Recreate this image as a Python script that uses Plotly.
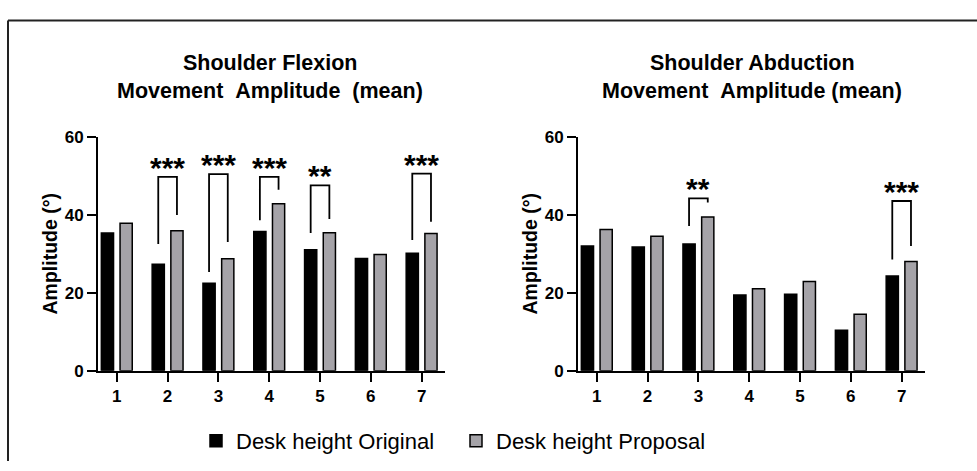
import plotly.graph_objects as go

# ---------------- data ----------------
categories = [1, 2, 3, 4, 5, 6, 7]
tick_labels = ["1", "2", "3", "4", "5", "6", "7"]
y_ticks = [0, 20, 40, 60]

flex_original = [35.3, 27.3, 22.4, 35.7, 31.0, 28.8, 30.1]
flex_proposal = [37.8, 35.9, 28.7, 42.8, 35.4, 29.8, 35.2]
abd_original = [32.0, 31.7, 32.5, 19.4, 19.6, 10.4, 24.3]
abd_proposal = [36.2, 34.5, 39.4, 21.0, 22.9, 14.5, 28.0]

flex_sig_cats = [2, 3, 4, 5, 7]
flex_sig_top = [49.7, 50.4, 49.7, 47.5, 50.5]
flex_sig_left = [32.5, 25.3, 38.6, 35.3, 33.5]
flex_sig_right = [39.9, 33.0, 46.4, 38.9, 38.2]
flex_sig_labels = ["***", "***", "***", "**", "***"]

abd_sig_cats = [3, 7]
abd_sig_top = [44.2, 43.5]
abd_sig_left = [37.1, 28.5]
abd_sig_right = [43.1, 32.0]
abd_sig_labels = ["**", "***"]

series_names = ["Desk height Original", "Desk height Proposal"]
titles_left = ["Shoulder Flexion", "Movement\u00a0\u00a0Amplitude\u00a0\u00a0(mean)"]
titles_right = ["Shoulder Abduction", "Movement\u00a0\u00a0Amplitude (mean)"]
y_title = "Amplitude (°)"

# ---------------- style ----------------
W, H = 977, 471
FONT = "Liberation Sans, Arial, sans-serif"
GREY = "#a5a3a8"
BAR_W = 0.24
HALF_SEP = 0.184


def px_x(p):
    return p / W


def px_y(p):
    return 1 - p / H


fig = go.Figure()

panels = [
    ("x", "y", flex_original, flex_proposal,
     (flex_sig_cats, flex_sig_top, flex_sig_left, flex_sig_right, flex_sig_labels), True),
    ("x2", "y2", abd_original, abd_proposal,
     (abd_sig_cats, abd_sig_top, abd_sig_left, abd_sig_right, abd_sig_labels), False),
]

annotations = []
for xa, ya, orig, prop, sig, show in panels:
    fig.add_trace(go.Bar(
        x=categories, y=orig, width=BAR_W, offset=-HALF_SEP - BAR_W / 2,
        marker=dict(color="black", line=dict(color="black", width=1.5)),
        name=series_names[0], legendgroup="o", showlegend=show,
        xaxis=xa, yaxis=ya))
    fig.add_trace(go.Bar(
        x=categories, y=prop, width=BAR_W, offset=HALF_SEP - BAR_W / 2,
        marker=dict(color=GREY, line=dict(color="black", width=1.5)),
        name=series_names[1], legendgroup="p", showlegend=show,
        xaxis=xa, yaxis=ya))
    cats, tops, lefts, rights, labels = sig
    bx, by = [], []
    for c, t, l, r in zip(cats, tops, lefts, rights):
        bx += [c - HALF_SEP, c - HALF_SEP, c + HALF_SEP, c + HALF_SEP, None]
        by += [l, t, t, r, None]
    fig.add_trace(go.Scatter(
        x=bx, y=by, mode="lines", line=dict(color="black", width=1.8),
        showlegend=False, hoverinfo="skip", xaxis=xa, yaxis=ya))
    for c, t, lab in zip(cats, tops, labels):
        annotations.append(dict(
            x=c, y=t, xref=xa, yref=ya, text=lab, showarrow=False,
            xanchor="center", yanchor="bottom", yshift=-9,
            font=dict(family=FONT, size=30, color="black", weight="bold")))

# titles
for cx, lines in ((270, titles_left), (752, titles_right)):
    for cy, txt in zip((56, 85), lines):
        annotations.append(dict(
            x=px_x(cx), y=px_y(cy), xref="paper", yref="paper", text=txt,
            showarrow=False, xanchor="center", yanchor="middle",
            font=dict(family=FONT, size=21.5, color="black", weight="bold")))

xaxis_common = dict(
    range=[0.63, 7.46], tickmode="array", tickvals=categories, ticktext=tick_labels,
    ticks="outside", ticklen=9, tickwidth=2, tickcolor="black",
    showline=True, linewidth=2, linecolor="black", showgrid=False, zeroline=False,
    tickfont=dict(family=FONT, size=17, color="black", weight="bold"),
)
yaxis_common = dict(
    range=[0, 60], tickmode="array", tickvals=y_ticks,
    ticks="outside", ticklen=9, tickwidth=2, tickcolor="black",
    showline=True, linewidth=2, linecolor="black", showgrid=False, zeroline=False,
    tickfont=dict(family=FONT, size=17, color="black", weight="bold"),
    title=dict(text=y_title, standoff=2,
               font=dict(family=FONT, size=19.5, color="black", weight="bold")),
    domain=[px_y(377), px_y(133)],
)

fig.update_layout(
    width=W, height=H,
    margin=dict(l=0, r=0, t=0, b=0),
    paper_bgcolor="white", plot_bgcolor="white",
    barmode="overlay",
    font=dict(family=FONT, color="black"),
    xaxis=dict(domain=[px_x(98), px_x(445)], anchor="y", **xaxis_common),
    yaxis=dict(anchor="x", **yaxis_common),
    xaxis2=dict(domain=[px_x(578), px_x(925)], anchor="y2", **xaxis_common),
    yaxis2=dict(anchor="x2", **yaxis_common),
    legend=dict(orientation="h", x=px_x(196), xanchor="left",
                y=px_y(450), yanchor="middle",
                font=dict(family=FONT, size=22, color="black"),
                entrywidth=215, entrywidthmode="pixels",
                bgcolor="rgba(0,0,0,0)", traceorder="normal"),
    annotations=annotations,
    shapes=[
        dict(type="line", xref="paper", yref="paper", x0=px_x(8), x1=1.0,
             y0=px_y(12), y1=px_y(12), line=dict(color="#222", width=2)),
        dict(type="line", xref="paper", yref="paper", x0=px_x(8), x1=px_x(8),
             y0=px_y(12), y1=0.0, line=dict(color="#222", width=2)),
    ],
    showlegend=True,
)

fig.write_html("out.html")
